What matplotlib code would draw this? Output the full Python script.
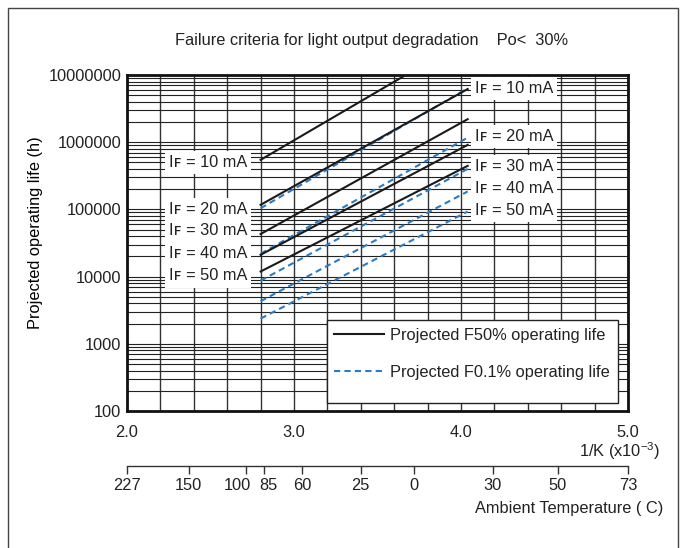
import matplotlib
matplotlib.use("Agg")
import matplotlib.pyplot as plt
from matplotlib.patches import Rectangle
from matplotlib.lines import Line2D
from matplotlib.transforms import ScaledTranslation
from matplotlib.ticker import LogLocator, MultipleLocator, FuncFormatter, NullFormatter

plt.rcParams["font.family"] = ["Liberation Sans", "DejaVu Sans"]
plt.rcParams["font.size"] = 11.8
plt.rcParams["text.color"] = "#222222"
plt.rcParams["xtick.color"] = "#222222"
plt.rcParams["ytick.color"] = "#222222"

# data (x = 1/K in 1e-3, y = hours)
inv_temp = [2.8, 4.04]
currents = [10, 20, 30, 40, 50]
f50_start = [546000, 117000, 43000, 21100, 11900]
f50_end = [34600000, 6190000, 2200000, 912000, 445000]
f01_start = [104000, 21900, 8700, 4300, 2370]
f01_end = [6340000, 1170000, 401000, 185000, 93000]

# ambient temperature scale under the plot
temp_pos = [2.0, 2.37, 2.71, 2.82, 3.05, 3.40, 3.72, 4.19, 4.58, 5.0]
temp_labels = ["227", "150", "100", "85", "60", "25", "0", "30", "50", "73"]

W, H = 686, 548
fig = plt.figure(figsize=(W / 100, H / 100), dpi=100)

# outer frame
fig.add_artist(Rectangle((8 / W, -0.05), (678 - 8) / W, 1 - 8 / H + 0.05,
                         transform=fig.transFigure, fill=False, ec="#444444", lw=1))

ax = fig.add_axes([127 / W, 1 - 411 / H, 501 / W, 336 / H])
ax.set_xlim(2.0, 5.0)
ax.set_yscale("log")
ax.set_ylim(100, 1e7)

ax.set_xticks([2.0, 3.0, 4.0, 5.0])
ax.set_xticklabels(["2.0", "3.0", "4.0", "5.0"])
ax.xaxis.set_minor_locator(MultipleLocator(0.2))
ax.yaxis.set_major_locator(LogLocator(base=10))
ax.yaxis.set_minor_locator(LogLocator(base=10, subs=range(2, 10)))
ax.yaxis.set_major_formatter(FuncFormatter(lambda v, p: "%d" % round(v)))
ax.yaxis.set_minor_formatter(NullFormatter())
ax.tick_params(which="both", length=0)
ax.tick_params(axis="x", pad=10)
ax.tick_params(axis="y", pad=4)

ax.grid(which="both", axis="x", color="#333333", lw=1, zorder=0)
ax.grid(which="both", axis="y", color="#222222", lw=0.8, zorder=0)
ax.set_axisbelow(True)
for s in ax.spines.values():
    s.set_linewidth(2)
    s.set_color("#111111")

for i in range(len(currents)):
    ax.plot(inv_temp, [f50_start[i], f50_end[i]], color="#1a1a1a", lw=1.5, zorder=3)
    ax.plot(inv_temp, [f01_start[i], f01_end[i]], color="#2b7bc4", lw=1.5,
            dashes=(3, 2), zorder=3)

# current labels (left ones go with the solid lines, right ones with the dashed lines)
box = dict(boxstyle="square,pad=0.25", fc="white", ec="none")
left_y = [0.739, 0.600, 0.537, 0.469, 0.402]
right_y = [0.960, 0.818, 0.727, 0.661, 0.596]
for i, c in enumerate(currents):
    lab = "I\ua730 = %d mA" % c
    ax.text(0.1617, left_y[i], lab, transform=ax.transAxes, ha="center",
            va="center", bbox=box, zorder=4)
    ax.text(0.7725, right_y[i], lab, transform=ax.transAxes, ha="center",
            va="center", bbox=box, zorder=4)

# legend: own frame so the empty space under the rows matches
ax.add_patch(Rectangle((0.399, 0.024), 0.581, 0.247, transform=ax.transAxes,
                       fc="white", ec="#222222", lw=1, zorder=5))
handles = [Line2D([], [], color="#1a1a1a", lw=1.5),
           Line2D([], [], color="#2b7bc4", lw=1.5, dashes=(3, 2))]
leg = ax.legend(handles, ["Projected F50% operating life", "Projected F0.1% operating life"],
                loc="upper left", bbox_to_anchor=(0.414, 0.247), frameon=False,
                handlelength=3.0, labelspacing=1.35, borderpad=0, borderaxespad=0,
                handletextpad=0.4)
leg.set_zorder(6)

ax.set_ylabel("Projected operating life (h)")
ax.yaxis.set_label_coords(-0.168, 0.53)

fig.text(372 / W, 1 - 41 / H, "Failure criteria for light output degradation    Po<  30%",
         ha="center", va="center")
fig.text(660 / W, 1 - 451 / H, r"1/K (x10$^{\mathregular{-3}}$)", ha="right", va="center")

# temperature axis
axt = fig.add_axes([127 / W, 1 - 466 / H, 501 / W, 0.0001])
axt.set_xlim(2.0, 5.0)
axt.set_yticks([])
axt.set_xticks(temp_pos)
axt.set_xticklabels(temp_labels)
axt.patch.set_alpha(0)
for k in ["left", "right", "top"]:
    axt.spines[k].set_visible(False)
axt.spines["bottom"].set_color("#333333")
axt.spines["bottom"].set_linewidth(1)
axt.tick_params(axis="x", direction="out", length=6, width=1, pad=3, color="#333333")
# 100 and 85 sit close together, nudge their labels apart
tl = axt.get_xticklabels()
tl[2].set_transform(tl[2].get_transform() + ScaledTranslation(-0.08, 0, fig.dpi_scale_trans))
tl[3].set_transform(tl[3].get_transform() + ScaledTranslation(0.045, 0, fig.dpi_scale_trans))

fig.text(663 / W, 1 - 508 / H, "Ambient Temperature ( C)", ha="right", va="center")

fig.savefig("out.png", dpi=100)
